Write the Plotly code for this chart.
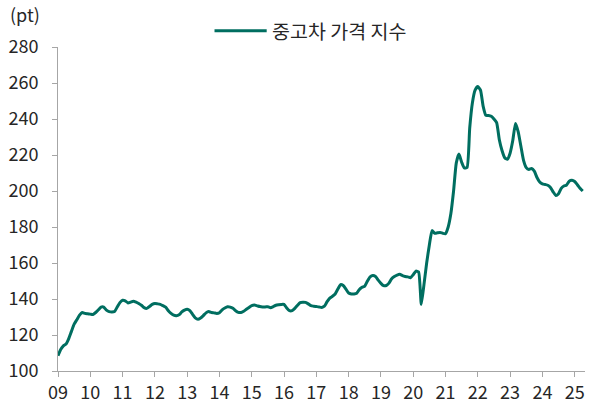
import pandas as pd
import plotly.graph_objects as go

# monthly index values, Jan 2009 .. Apr 2025
start_month = "2009-01"
values_09_12 = [108.5, 112, 114, 115, 118, 122, 126, 128.5, 131, 132.5, 132, 131.8,
                131.6, 131.4, 132.5, 134, 135.5, 135.5, 133.8, 133, 132.8, 133, 135.5, 138,
                139.3, 139, 137.8, 138.3, 138.8, 138.3, 137.5, 136.5, 135.2, 134.8, 135.8, 137,
                137.5, 137.3, 137, 136.3, 135.5, 133.5, 132, 131, 130.7, 131.2, 132.8, 133.8]
values_13_16 = [134.3, 133.5, 131.5, 129.5, 128.8, 129.5, 130.8, 132.3, 133, 132.5, 132.3, 132,
                132.4, 134, 135, 135.7, 135.5, 134.8, 133.5, 132.6, 132.5, 133.2, 134.3, 135.3,
                136.3, 136.6, 136.2, 135.8, 135.6, 135.6, 135.7, 135.2, 135.8, 136.5, 136.8, 137,
                137, 135, 133.5, 133.5, 134.8, 136.5, 138, 138.2, 138.1, 137.3, 136.3, 136]
values_17_20 = [135.8, 135.6, 135.3, 136, 138.5, 140.5, 141.5, 142.8, 145.5, 148, 147.5, 145.5,
                143.3, 142.8, 142.8, 143.2, 145.3, 146.5, 147.2, 150, 152.3, 153, 152.5, 150.5,
                148.7, 147.4, 147.5, 148.8, 151.3, 152.5, 153.3, 153.7, 153, 152.5, 152.3, 151.8,
                153.5, 155.5, 155, 137, 148, 160, 170, 178, 176.5, 176.8, 177, 176.5]
values_21_25 = [176.3, 180, 187.5, 200, 215.5, 220.5, 216, 212.8, 213, 235, 249, 256,
                258, 256, 247, 242, 242, 241.5, 240, 238, 228.5, 222.5, 218.5, 217.6,
                221, 228, 237.5, 233, 225, 217, 213, 212, 212.5, 211, 207.5, 205,
                204, 203.6, 203.2, 202, 199.5, 197.5, 198.5, 201.5, 202.8, 203.3, 205.5, 206,
                205.3, 203.5, 201.5, 200]

tick_years = list(range(2009, 2026))
tick_labels = [f"{y % 100:02d}" for y in tick_years]
y_ticks = list(range(100, 281, 20))

values = values_09_12 + values_13_16 + values_17_20 + values_21_25
dates = pd.period_range(start_month, periods=len(values), freq="M")
x = [d.year + (d.month - 1) / 12 for d in dates]

line_color = "#006e60"
axis_color = "#a6a6a6"
text_color = "#262626"
font = "Noto Sans CJK KR, Noto Sans, sans-serif"

fig = go.Figure()
fig.add_trace(go.Scatter(x=x, y=values, mode="lines", name="중고차 가격 지수",
                         line=dict(color=line_color, width=3, shape="spline", smoothing=0.5),
                         showlegend=False))

fig.update_layout(
    width=589, height=405,
    margin=dict(l=58, r=4, t=47, b=34),
    paper_bgcolor="white", plot_bgcolor="white",
    font=dict(family=font, size=18, color=text_color),
)
fig.update_xaxes(range=[2009, 2025.32], tickvals=tick_years, ticktext=tick_labels,
                 showgrid=False, zeroline=False, showline=True, linecolor=axis_color,
                 linewidth=1, ticks="outside", ticklen=5, tickcolor=axis_color,
                 automargin=False, tickfont=dict(size=18, color=text_color))
fig.update_yaxes(range=[100, 280], tickvals=y_ticks, showgrid=False, zeroline=False,
                 showline=True, linecolor=axis_color, linewidth=1, ticks="outside",
                 ticklen=5, tickcolor=axis_color, ticklabelstandoff=10,
                 automargin=False, tickfont=dict(size=18, color=text_color))

# unit label and legend
fig.add_annotation(text="(pt)", xref="paper", yref="paper", x=-0.095, y=1.055,
                   xanchor="left", yanchor="bottom", showarrow=False,
                   font=dict(size=18, color=text_color))
fig.add_shape(type="line", xref="paper", yref="paper", x0=0.297, x1=0.396, y0=1.05, y1=1.05,
              line=dict(color=line_color, width=3))
fig.add_annotation(text="중고차 가격 지수", xref="paper", yref="paper", x=0.403, y=1.05,
                   xanchor="left", yanchor="middle", showarrow=False,
                   font=dict(size=19.5, color=text_color))

# page has a default body margin; remove it so the figure fills the window
fig.write_html("out.html", config={"displayModeBar": False},
               post_script="document.body.style.margin='0';")
